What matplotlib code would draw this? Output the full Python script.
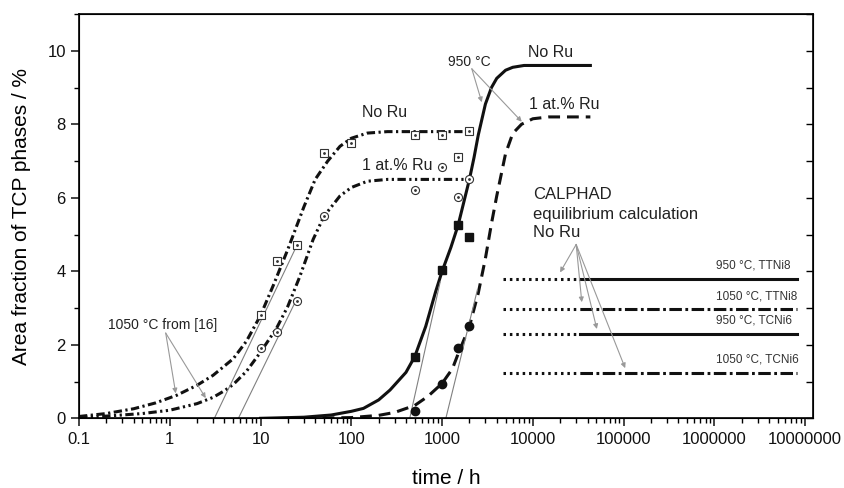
import numpy as np
import matplotlib
matplotlib.use('Agg')
import matplotlib.pyplot as plt
from matplotlib import ticker

plt.rcParams['font.family'] = ['Liberation Sans', 'DejaVu Sans']
plt.rcParams['lines.scale_dashes'] = False

# 1050 °C from [16], fitted curves
t_1050_noru = [0.1, 0.2, 0.4, 0.7, 1.2, 2, 3, 5, 7, 10, 14, 20, 30, 40, 55, 75, 100, 150, 250, 500, 1000, 2000]
f_1050_noru = [0.05, 0.13, 0.26, 0.42, 0.63, 0.9, 1.17, 1.62, 2.1, 2.8, 3.65, 4.6, 5.75, 6.5, 7.0, 7.4, 7.62, 7.76, 7.8, 7.8, 7.8, 7.8]
t_1050_ru = [0.1, 0.2, 0.5, 1, 2, 3, 4, 5, 7, 10, 15, 20, 27, 38, 50, 75, 100, 150, 250, 500, 1000, 2000]
f_1050_ru = [0.03, 0.06, 0.13, 0.22, 0.4, 0.57, 0.75, 0.92, 1.28, 1.8, 2.45, 3.05, 3.85, 4.87, 5.5, 6.05, 6.28, 6.45, 6.5, 6.5, 6.5, 6.5]

# 950 °C fitted curves
t_950_noru = [10, 30, 60, 100, 136, 200, 267, 400, 500, 660, 850, 1000, 1250, 1500, 2000, 2250, 2500, 3000, 3500, 4000, 5000, 6000, 8000, 12000, 20000, 43000]
f_950_noru = [0.0, 0.03, 0.09, 0.19, 0.27, 0.5, 0.77, 1.25, 1.68, 2.5, 3.45, 4.0, 4.65, 5.25, 6.5, 7.1, 7.7, 8.55, 9.0, 9.25, 9.47, 9.55, 9.6, 9.6, 9.6, 9.6]
t_950_ru = [30, 100, 200, 300, 500, 700, 1000, 1300, 1500, 2000, 2500, 3000, 3500, 4000, 5000, 6000, 7500, 10000, 15000, 43000]
f_950_ru = [0.0, 0.02, 0.08, 0.16, 0.35, 0.6, 0.95, 1.35, 1.75, 2.5, 3.4, 4.35, 5.3, 6.05, 7.2, 7.75, 8.0, 8.15, 8.2, 8.2]

# measured points
ms_1050_noru_t = [10, 15, 25, 50, 100, 500, 1000, 1500, 2000]
ms_1050_noru_f = [2.82, 4.28, 4.71, 7.21, 7.5, 7.71, 7.71, 7.12, 7.82]
ms_1050_ru_t = [10, 15, 25, 50, 500, 1000, 1500, 2000]
ms_1050_ru_f = [1.9, 2.36, 3.2, 5.5, 6.2, 6.84, 6.03, 6.5]
ms_950_noru_t = [500, 1000, 1500, 2000]
ms_950_noru_f = [1.68, 4.03, 5.25, 4.93]
ms_950_ru_t = [500, 1000, 1500, 2000]
ms_950_ru_f = [0.2, 0.94, 1.91, 2.5]

# tangent lines (start/end)
tan_t = [[3.1, 24], [5.7, 24.5], [440, 950], [1100, 2450]]
tan_f = [[0, 4.6], [0, 3.2], [0, 3.7], [0, 3.5]]

# CALPHAD equilibrium values
calphad_labels = ['950 °C, TTNi8', '1050 °C, TTNi8', '950 °C, TCNi6', '1050 °C, TCNi6']
calphad_f = [3.79, 2.98, 2.29, 1.23]
calphad_t = [4700, 33000, 8.1e6]

x_ticks = [0.1, 1, 10, 100, 1000, 10000, 100000, 1000000, 10000000]
x_ticklabels = ['0.1', '1', '10', '100', '1000', '10000', '100000', '1000000', '10000000']

fig = plt.figure(figsize=(8.44, 4.88), dpi=100)
ax = fig.add_axes([0.0936, 0.1428, 0.8697, 0.8285])

k = '#111111'
ax.plot(t_1050_noru, f_1050_noru, color=k, lw=2.2, dashes=(6, 2.5, 1.6, 2.5))
ax.plot(t_1050_ru, f_1050_ru, color=k, lw=2.2, dashes=(6, 2.5, 1.6, 2.5, 1.6, 2.5))
ax.plot(t_950_noru, f_950_noru, color=k, lw=2.2)
ax.plot(t_950_ru, f_950_ru, color=k, lw=2.2, dashes=(8.5, 5))

for tt, ff in zip(tan_t, tan_f):
    ax.plot(tt, ff, color='#808080', lw=0.8)

ax.plot(ms_1050_noru_t, ms_1050_noru_f, 's', ms=5.5, mfc='white', mec='#333333', mew=0.8)
ax.plot(ms_1050_noru_t, ms_1050_noru_f, '.', ms=2, color='#333333')
ax.plot(ms_1050_ru_t, ms_1050_ru_f, 'o', ms=5.8, mfc='white', mec='#333333', mew=0.8)
ax.plot(ms_1050_ru_t, ms_1050_ru_f, '.', ms=2, color='#333333')
ax.plot(ms_950_noru_t, ms_950_noru_f, 's', ms=5.5, color=k)
ax.plot(ms_950_ru_t, ms_950_ru_f, 'o', ms=6, color=k)

styles = [None, (9, 2.5, 2, 2.5), None, (9, 2.5, 2, 2.5)]
for lab, f, st in zip(calphad_labels, calphad_f, styles):
    ax.plot(calphad_t[:2], [f, f], color=k, lw=2.2, dashes=(1.8, 2.8))
    if st is None:
        ax.plot(calphad_t[1:], [f, f], color=k, lw=2.2)
    else:
        ax.plot(calphad_t[1:], [f, f], color=k, lw=2.2, dashes=st)
ax.text(1.04e6, 4.16, calphad_labels[0], fontsize=8.5, color='#333333', va='center')
ax.text(1.04e6, 3.32, calphad_labels[1], fontsize=8.5, color='#333333', va='center')
ax.text(1.04e6, 2.66, calphad_labels[2], fontsize=8.5, color='#333333', va='center')
ax.text(1.04e6, 1.61, calphad_labels[3], fontsize=8.5, color='#333333', va='center')

# texts
ax.text(130, 8.33, 'No Ru', fontsize=11.5, color='#222222', va='center')
ax.text(130, 6.87, '1 at.% Ru', fontsize=11.5, color='#222222', va='center')
ax.text(8930, 9.96, 'No Ru', fontsize=11.5, color='#222222', va='center')
ax.text(9100, 8.53, '1 at.% Ru', fontsize=11.5, color='#222222', va='center')
ax.text(1165, 9.69, '950 °C', fontsize=10, color='#222222', va='center')
ax.text(0.21, 2.55, '1050 °C from [16]', fontsize=10, color='#222222', va='center')
ax.text(10000, 6.1, 'CALPHAD', fontsize=12, color='#222222', va='center')
ax.text(10000, 5.55, 'equilibrium calculation', fontsize=12, color='#222222', va='center')
ax.text(10000, 5.06, 'No Ru', fontsize=12, color='#222222', va='center')

arrow = dict(arrowstyle='-|>', color='#999999', lw=0.8, shrinkA=0, shrinkB=0, mutation_scale=7)
for tip in [(1.163, 0.68), (2.49, 0.55)]:
    ax.annotate('', xy=tip, xytext=(0.902, 2.32), arrowprops=arrow)
for tip in [(2737, 8.6), (7550, 8.07)]:
    ax.annotate('', xy=tip, xytext=(2125, 9.51), arrowprops=arrow)
for tip in [(19950, 3.97), (34600, 3.16), (50700, 2.43), (104000, 1.365)]:
    ax.annotate('', xy=tip, xytext=(30000, 4.73), arrowprops=arrow)

ax.set_xscale('log')
ax.set_xlim(0.1, 1.22e7)
ax.set_ylim(0, 11)
ax.xaxis.set_major_locator(ticker.FixedLocator(x_ticks))
ax.xaxis.set_major_formatter(ticker.FixedFormatter(x_ticklabels))
ax.xaxis.set_minor_locator(ticker.LogLocator(base=10, subs=np.arange(2, 10), numticks=20))
ax.xaxis.set_minor_formatter(ticker.NullFormatter())
ax.yaxis.set_major_locator(ticker.MultipleLocator(2))
ax.yaxis.set_minor_locator(ticker.MultipleLocator(1))

ax.tick_params(axis='both', which='major', direction='out', length=6, width=1.1, labelsize=12, colors='#111111')
ax.tick_params(axis='both', which='minor', direction='out', length=3.5, width=1.0)
ax.tick_params(top=False, right=False, which='both')
for s in ax.spines.values():
    s.set_linewidth(1.2)

ax2 = ax.twinx()
ax2.set_ylim(0, 11)
ax2.yaxis.set_major_locator(ticker.MultipleLocator(1))
ax2.tick_params(axis='y', direction='in', length=5, width=1.0, labelright=False)

ax.set_xlabel('time / h', fontsize=15, labelpad=16)
ax.set_ylabel('Area fraction of TCP phases / %', fontsize=15, labelpad=12)

fig.savefig('out.png', dpi=100)
